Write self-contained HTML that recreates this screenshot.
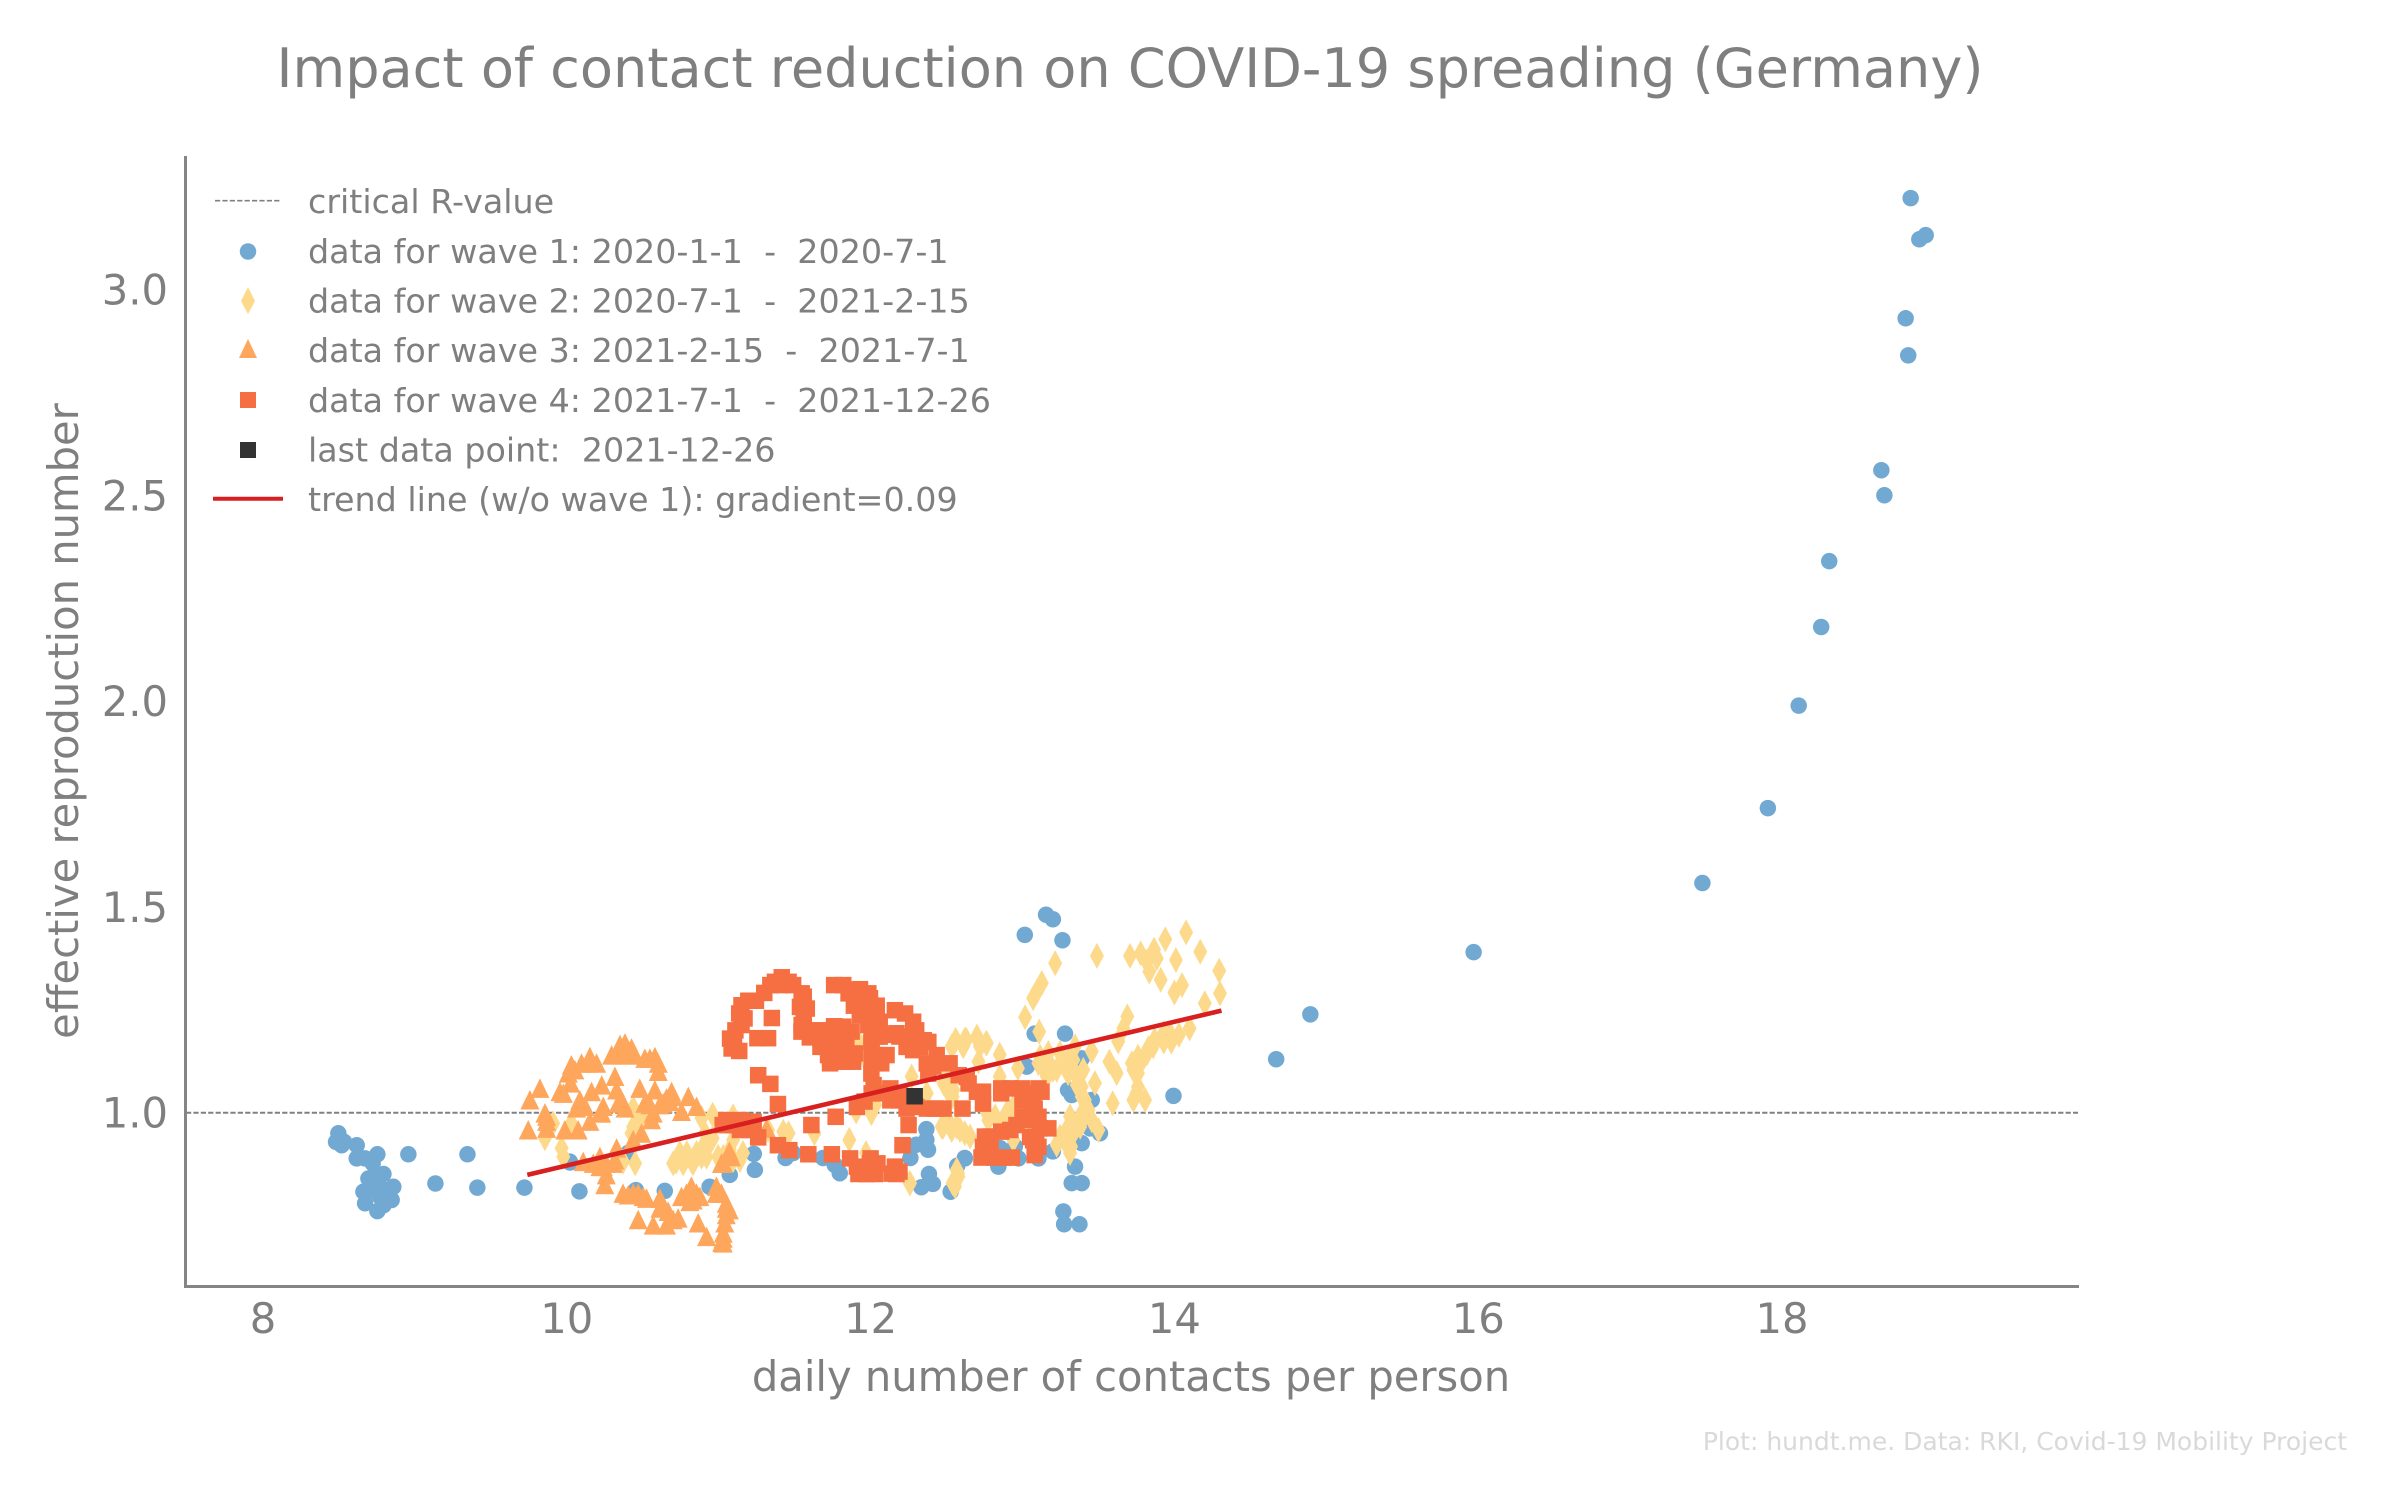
<!DOCTYPE html>
<html lang="en">
<head>
<meta charset="utf-8">
<title>Impact of contact reduction on COVID-19 spreading (Germany)</title>
<style>
html,body{margin:0;padding:0;background:#fff;width:2400px;height:1500px;overflow:hidden}
svg{display:block}
text{font-family:"DejaVu Sans","Liberation Sans",sans-serif;fill:#7f7f7f}
</style>
</head>
<body>
<svg id="chart" xmlns="http://www.w3.org/2000/svg" width="2400" height="1500" viewBox="0 0 2400 1500">
  <rect x="0" y="0" width="2400" height="1500" fill="#ffffff"/>
  <text x="1130" y="87" font-size="54.1" text-anchor="middle">Impact of contact reduction on COVID-19 spreading (Germany)</text>
  <text transform="translate(78,721) rotate(-90)" font-size="41.67" text-anchor="middle">effective reproduction number</text>
  <text x="1131" y="1391" font-size="41.67" text-anchor="middle">daily number of contacts per person</text>
  <text x="2347" y="1450" font-size="25" text-anchor="end" style="fill:#d9d9d9">Plot: hundt.me. Data: RKI, Covid-19 Mobility Project</text>
  <g id="ticks"></g>
  <line id="critical" stroke="#808080" stroke-width="2" stroke-dasharray="5.2 2.2"/>
  <g id="marks"></g>
  <line id="trend" stroke="#d7201f" stroke-width="4.6"/>
  <line x1="185.5" y1="156" x2="185.5" y2="1288" stroke="#858585" stroke-width="3"/>
  <line x1="184" y1="1286.5" x2="2079" y2="1286.5" stroke="#858585" stroke-width="3"/>
  <g>
    <line x1="215" y1="200.7" x2="281" y2="200.7" stroke="#808080" stroke-width="1.6" stroke-dasharray="5.2 2.2"/>
    <circle cx="248" cy="251.5" r="8.25" fill="#72a9d2"/>
    <polygon points="248,287 255,301 248,314 241,301" fill="#fdd98b"/>
    <polygon points="248,339 257,358 239,358" fill="#fda65c"/>
    <rect x="240" y="392" width="16" height="16" fill="#f66f42"/>
    <rect x="240" y="442" width="16" height="16" fill="#333333"/>
    <line x1="213" y1="498.7" x2="283" y2="498.7" stroke="#d7201f" stroke-width="4"/>
    <text x="308" y="213" font-size="33.33">critical R-value</text>
    <text x="308" y="263" font-size="33.33" xml:space="preserve">data for wave 1: 2020-1-1  -  2020-7-1</text>
    <text x="308" y="312.5" font-size="33.33" xml:space="preserve">data for wave 2: 2020-7-1  -  2021-2-15</text>
    <text x="308" y="362" font-size="33.33" xml:space="preserve">data for wave 3: 2021-2-15  -  2021-7-1</text>
    <text x="308" y="412" font-size="33.33" xml:space="preserve">data for wave 4: 2021-7-1  -  2021-12-26</text>
    <text x="308" y="461.5" font-size="33.33" xml:space="preserve">last data point:  2021-12-26</text>
    <text x="308" y="511" font-size="33.33">trend line (w/o wave 1): gradient=0.09</text>
  </g>
</svg>
<script>
const xTickValues = [8, 10, 12, 14, 16, 18];
const xTickLabels = ['8', '10', '12', '14', '16', '18'];
const yTickValues = [1.0, 1.5, 2.0, 2.5, 3.0];
const yTickLabels = ['1.0', '1.5', '2.0', '2.5', '3.0'];
const criticalValue = 1.0;
const trendX = [9.74, 14.31];
const trendY = [0.849, 1.248];
const lastX = [12.29];
const lastY = [1.04];

const wave1X = [
8.496,8.481,8.518,8.534,8.617,8.617,8.672,8.753,8.722,8.793,
8.694,8.749,8.738,8.661,8.858,8.672,8.753,8.847,8.793,8.803,
8.77,8.705,8.957,9.346,9.135,9.411,9.721,10.083,10.021,
10.02,10.404,10.455,10.645,10.94,11.073,11.238,11.231,11.44,11.49,
11.687,11.764,11.797,12.367,12.30,12.378,12.367,12.262,12.384,12.41,
12.334,12.527,12.62,12.57,12.19,
13.015,13.155,13.2,13.263,13.08,13.28,13.028,13.39,13.324,13.30,
13.456,13.994,13.51,13.445,13.39,13.2,13.105,12.973,12.95,12.852,
12.841,12.62,13.346,13.324,13.39,13.269,13.274,13.375,
14.895,14.67,15.97,18.847,18.946,18.904,18.814,18.831,18.654,18.674,
18.311,18.258,18.11,17.907,17.476];
const wave1Y = [
0.95,0.929,0.921,0.929,0.921,0.889,0.889,0.899,0.877,0.851,
0.84,0.848,0.828,0.808,0.82,0.78,0.761,0.788,0.775,0.812,
0.796,0.812,0.899,0.899,0.828,0.818,0.818,0.809,0.879,
0.881,0.902,0.812,0.81,0.82,0.849,0.861,0.9,0.89,0.902,
0.89,0.873,0.853,0.96,0.922,0.91,0.934,0.89,0.851,0.827,
0.819,0.808,0.89,0.871,0.853,
1.432,1.481,1.47,1.419,1.192,1.192,1.112,1.132,1.043,1.055,
1.031,1.041,0.95,0.962,0.926,0.906,0.889,0.889,0.918,0.914,
0.869,0.889,0.869,0.829,0.829,0.76,0.729,0.729,
1.239,1.13,1.39,3.222,3.132,3.122,2.93,2.84,2.561,2.5,
2.34,2.18,1.989,1.74,1.558];

const wave2X = [
13.49,13.215,13.127,13.094,13.07,13.017,13.11,13.708,13.778,13.818,
13.835,13.866,13.884,13.94,14.077,14.01,14.17,13.91,14.05,14.0,
14.295,14.30,14.2,13.69,14.10,14.03,13.98,13.93,13.87,13.83,
13.80,13.775,13.72,13.76,13.75,13.73,13.807,13.594,13.63,13.664,
13.572,13.62,13.477,13.456,13.40,13.346,13.313,13.357,13.39,13.434,
13.456,13.50,13.313,13.38,13.335,13.28,13.313,13.225,13.30,13.225,
13.16,13.105,13.16,13.247,13.17,12.85,12.97,12.85,12.71,12.765,
12.70,12.62,12.556,12.523,12.48,12.468,12.534,12.589,12.655,12.775,
12.875,12.578,12.556,12.26,12.94,
9.856,9.966,9.977,10.03,9.91,10.437,10.437,10.49,10.33,10.37,
10.45,10.96,10.887,11.095,10.72,10.79,10.83,10.887,10.94,11.03,
11.095,11.16,11.095,11.425,11.46,11.325,11.63,11.86,11.97,12.03,
11.905,12.005,12.257,12.27,12.37,12.5,11.92,11.96,12.56,12.63,
12.70,12.76,12.575,12.54,
13.93,13.86,13.97,13.82,13.76,13.73,13.76,13.116,13.2,13.138,
13.29,13.335,13.357,13.39,13.41,13.42,13.38,13.335,13.29,13.247,
13.29,13.32,12.72,12.61,12.534,12.545,12.51,12.567,12.62,12.765,
12.82,12.896,12.567,12.94,
10.744,10.70,10.766,10.854,10.898,10.92,10.996,11.14,11.073,10.91,
10.96,10.426,12.5,12.54,12.477];
const wave2Y = [
1.381,1.363,1.315,1.294,1.278,1.232,1.197,1.381,1.387,1.367,
1.343,1.396,1.375,1.421,1.438,1.371,1.391,1.323,1.31,1.292,
1.345,1.29,1.266,1.234,1.205,1.189,1.173,1.173,1.177,1.157,
1.136,1.12,1.12,1.096,1.047,1.031,1.031,1.023,1.173,1.205,
1.124,1.096,1.072,1.149,1.104,1.161,1.136,1.068,1.039,1.007,
0.982,0.958,0.991,0.966,0.95,0.93,0.902,0.922,1.096,1.104,
1.12,1.12,1.088,1.145,1.145,1.141,1.108,1.088,1.124,1.169,
1.181,1.177,1.173,1.055,1.072,0.966,0.958,0.958,0.942,0.982,
0.982,0.845,0.821,0.829,0.934,
0.938,0.914,0.893,0.974,0.974,1.011,0.966,0.987,0.902,0.881,
0.877,0.995,0.987,0.991,0.881,0.902,0.877,0.893,0.926,0.893,
0.885,0.902,0.934,0.954,0.95,0.958,0.95,0.934,0.902,1.019,
1.003,0.999,0.829,1.088,1.047,1.06,1.173,1.136,1.177,1.177,
1.185,1.169,0.853,0.829,
1.193,1.161,1.193,1.145,1.136,1.104,1.063,1.136,1.104,1.108,
1.112,1.128,1.088,1.063,1.031,1.0,0.991,0.975,0.958,0.942,
0.926,0.918,1.161,1.161,1.161,1.055,0.982,0.966,0.95,1.0,
0.991,1.0,0.861,1.015,
0.902,0.877,0.877,0.902,0.918,0.893,0.893,0.885,0.91,0.95,
0.938,0.95,1.088,1.039,0.966];

const wave3X = [
9.757,9.823,9.746,9.856,9.867,9.867,9.987,10.075,10.152,9.977,
10.03,10.025,10.097,10.152,10.196,10.064,10.12,10.163,10.23,10.24,
10.23,10.317,10.328,10.339,10.383,10.295,10.35,10.383,10.426,10.448,
10.514,10.58,10.602,10.602,10.48,10.58,10.69,10.8,10.854,10.755,
10.678,10.613,10.514,10.558,10.492,10.437,10.328,10.108,10.174,10.26,
10.218,10.317,10.25,10.26,10.37,10.437,10.503,10.47,10.569,10.656,
10.733,10.667,10.613,10.755,10.82,10.832,10.865,10.92,10.985,11.018,
11.05,11.05,11.04,11.03,11.02,11.07,11.03,11.315,
10.01,10.053,9.955,10.14,10.328,10.393,10.404,10.547,10.656,10.634,
10.547,10.70,10.569,10.086,10.218,10.371,9.867,10.218,10.24,10.306,
10.404,10.47,10.525,10.788,10.854,10.81,10.876,10.613,10.70,10.985,
11.05,11.07,11.03,11.03,11.018,11.084];
const wave3Y = [
1.031,1.059,0.958,0.999,0.979,0.962,0.958,0.958,0.979,1.047,
1.116,1.072,1.12,1.136,1.12,1.011,1.015,1.051,1.067,1.015,
0.999,1.088,1.055,1.023,1.011,1.14,1.165,1.169,1.157,1.14,
1.132,1.136,1.12,1.1,1.059,1.055,1.051,1.039,1.015,1.003,
1.027,1.019,1.023,0.983,0.95,0.934,0.914,0.881,0.877,0.877,
0.869,0.885,0.825,0.849,0.804,0.804,0.796,0.74,0.727,0.727,
0.744,0.76,0.792,0.796,0.821,0.788,0.732,0.699,0.821,0.804,
0.78,0.752,0.732,0.695,0.685,0.906,0.877,0.962,
1.096,1.104,1.051,1.12,1.14,1.153,1.14,1.132,1.035,1.023,
1.019,1.039,0.999,1.031,0.999,1.023,0.991,0.893,0.869,0.877,
0.8,0.804,0.792,0.804,0.804,0.784,0.796,0.768,0.74,0.804,
0.768,0.764,0.707,0.683,0.877,0.893];

const wave4X = [
11.415,11.34,11.49,11.415,11.30,11.195,11.245,11.56,11.58,11.56,
11.135,11.15,11.11,11.10,11.10,11.135,11.35,11.255,11.325,11.26,
11.34,11.39,11.61,11.77,11.91,11.96,12.25,12.21,11.026,11.10,
11.16,11.205,11.26,11.39,11.465,11.59,11.745,11.865,12.0,12.045,
11.92,11.975,12.03,12.16,12.17,11.76,11.82,11.93,11.855,11.985,
11.89,12.04,11.93,11.985,11.545,11.60,11.67,11.71,11.82,11.84,
11.755,11.67,11.72,11.785,11.885,11.80,11.76,12.16,12.227,12.28,
12.30,12.35,12.38,12.26,12.19,12.13,12.06,12.005,12.04,12.06,
12.03,12.105,12.03,12.005,12.02,12.13,12.13,12.19,12.26,12.37,
12.38,12.435,12.52,12.58,12.645,12.74,12.74,12.37,12.48,12.425,
12.605,12.86,12.92,12.995,13.105,13.125,13.0,13.08,13.0,13.07,
13.17,13.115,12.96,12.86,12.79,13.07,13.08,12.74,12.73,12.81,
12.875,12.93,
11.60,11.667,11.766,11.875,11.71,11.84,11.897,11.84,11.733,11.546,
11.875,11.93,11.996,11.996,12.04,11.93,11.985,12.04,12.007,12.17,
12.237,12.30,12.325,12.237,12.28,12.007,12.007,12.07,12.007,12.07,
12.19,12.30,12.237,12.413,12.633,12.70,12.86,13.04,13.07,13.105,
13.09,13.05,13.105,12.92,13.017,12.79,12.753,11.95,11.996,11.91,
12.14,12.19,11.05,11.14,11.23,11.14,11.06,11.37,11.46,11.546,
11.535,11.15,11.075,11.085,11.17];
const wave4Y = [
1.329,1.31,1.31,1.31,1.291,1.272,1.272,1.282,1.253,1.229,
1.241,1.213,1.2,1.178,1.168,1.15,1.23,1.181,1.181,1.091,
1.07,1.021,0.97,0.99,1.014,1.027,0.97,0.921,0.97,0.97,
0.97,0.958,0.94,0.921,0.909,0.899,0.899,0.889,0.889,0.877,
0.851,0.851,0.851,0.869,0.851,1.31,1.31,1.3,1.29,1.29,
1.26,1.26,1.25,1.233,1.197,1.183,1.18,1.2,1.209,1.18,
1.176,1.16,1.14,1.124,1.124,1.16,1.21,1.249,1.241,1.221,
1.2,1.176,1.172,1.16,1.185,1.189,1.185,1.172,1.2,1.221,
1.14,1.14,1.12,1.095,1.067,1.059,1.03,1.047,1.03,1.12,
1.095,1.14,1.12,1.091,1.071,1.051,1.022,1.01,1.01,1.01,
1.01,1.059,1.059,1.059,1.059,1.051,1.03,1.01,0.99,0.986,
0.962,0.962,0.97,0.954,0.942,0.933,0.897,0.917,0.891,0.891,
0.891,0.891,
1.2,1.2,1.2,1.197,1.16,1.16,1.144,1.124,1.12,1.213,
1.298,1.274,1.261,1.278,1.245,1.237,1.213,1.185,1.2,1.193,
1.185,1.18,1.16,1.16,1.152,1.152,1.12,1.12,1.047,1.047,
1.03,1.014,1.01,1.112,1.087,1.051,1.047,1.047,1.03,0.99,
0.941,0.941,0.917,0.958,0.982,0.917,0.942,0.86,0.877,0.869,
0.852,0.857,0.982,0.982,0.978,0.958,0.97,1.318,1.318,1.29,
1.257,1.261,1.18,1.156,1.229];

const SVGNS = 'http://www.w3.org/2000/svg';
const xOrigin = 263, xPerUnit = 151.9, yOrigin = 1112.7, yPerUnit = 411.6;
function xScale(v) { return xOrigin + (v - 8) * xPerUnit; }
function yScale(v) { return yOrigin - (v - 1) * yPerUnit; }

const ticksGroup = document.getElementById('ticks');
const marksGroup = document.getElementById('marks');

xTickValues.forEach(function (v, i) {
  const t = document.createElementNS(SVGNS, 'text');
  
  
  t.setAttribute('x', xScale(v));
  t.setAttribute('y', 1333);
  t.setAttribute('font-size', 41.67);
  t.setAttribute('text-anchor', 'middle');
  t.textContent = xTickLabels[i];
  ticksGroup.appendChild(t);
});
yTickValues.forEach(function (v, i) {
  const t = document.createElementNS(SVGNS, 'text');
  
  
  t.setAttribute('x', 168);
  t.setAttribute('y', yScale(v) + 15);
  t.setAttribute('font-size', 41.67);
  t.setAttribute('text-anchor', 'end');
  t.textContent = yTickLabels[i];
  ticksGroup.appendChild(t);
});

const crit = document.getElementById('critical');
crit.setAttribute('x1', 186);
crit.setAttribute('x2', 2078);
crit.setAttribute('y1', yScale(criticalValue));
crit.setAttribute('y2', yScale(criticalValue));

const trend = document.getElementById('trend');
trend.setAttribute('x1', xScale(trendX[0]));
trend.setAttribute('y1', yScale(trendY[0]));
trend.setAttribute('x2', xScale(trendX[1]));
trend.setAttribute('y2', yScale(trendY[1]));

function drawCircles(xs, ys, color) {
  xs.forEach(function (xv, i) {
    const el = document.createElementNS(SVGNS, 'circle');
    
    
    el.setAttribute('cx', xScale(xv));
    el.setAttribute('cy', yScale(ys[i]));
    el.setAttribute('r', 8.25);
    el.setAttribute('fill', color);
    marksGroup.appendChild(el);
  });
}
function drawDiamonds(xs, ys, color) {
  xs.forEach(function (xv, i) {
    const cx = xScale(xv), cy = yScale(ys[i]);
    const el = document.createElementNS(SVGNS, 'polygon');
    
    
    el.setAttribute('points', cx + ',' + (cy - 13) + ' ' + (cx + 7) + ',' + cy + ' ' + cx + ',' + (cy + 13) + ' ' + (cx - 7) + ',' + cy);
    el.setAttribute('fill', color);
    marksGroup.appendChild(el);
  });
}
function drawTriangles(xs, ys, color) {
  xs.forEach(function (xv, i) {
    const cx = xScale(xv), cy = yScale(ys[i]);
    const el = document.createElementNS(SVGNS, 'polygon');
    
    
    el.setAttribute('points', cx + ',' + (cy - 10) + ' ' + (cx + 9.5) + ',' + (cy + 9.5) + ' ' + (cx - 9.5) + ',' + (cy + 9.5));
    el.setAttribute('fill', color);
    marksGroup.appendChild(el);
  });
}
function drawSquares(xs, ys, color, name) {
  xs.forEach(function (xv, i) {
    const el = document.createElementNS(SVGNS, 'rect');
    
    
    el.setAttribute('x', xScale(xv) - 8.25);
    el.setAttribute('y', yScale(ys[i]) - 8.25);
    el.setAttribute('width', 16.5);
    el.setAttribute('height', 16.5);
    el.setAttribute('fill', color);
    marksGroup.appendChild(el);
  });
}
drawCircles(wave1X, wave1Y, '#72a9d2');
drawDiamonds(wave2X, wave2Y, '#fdd98b');
drawTriangles(wave3X, wave3Y, '#fda65c');
drawSquares(wave4X, wave4Y, '#f66f42', 'wave-4-point');
drawSquares(lastX, lastY, '#333333', 'last-data-point');
</script>
</body>
</html>
